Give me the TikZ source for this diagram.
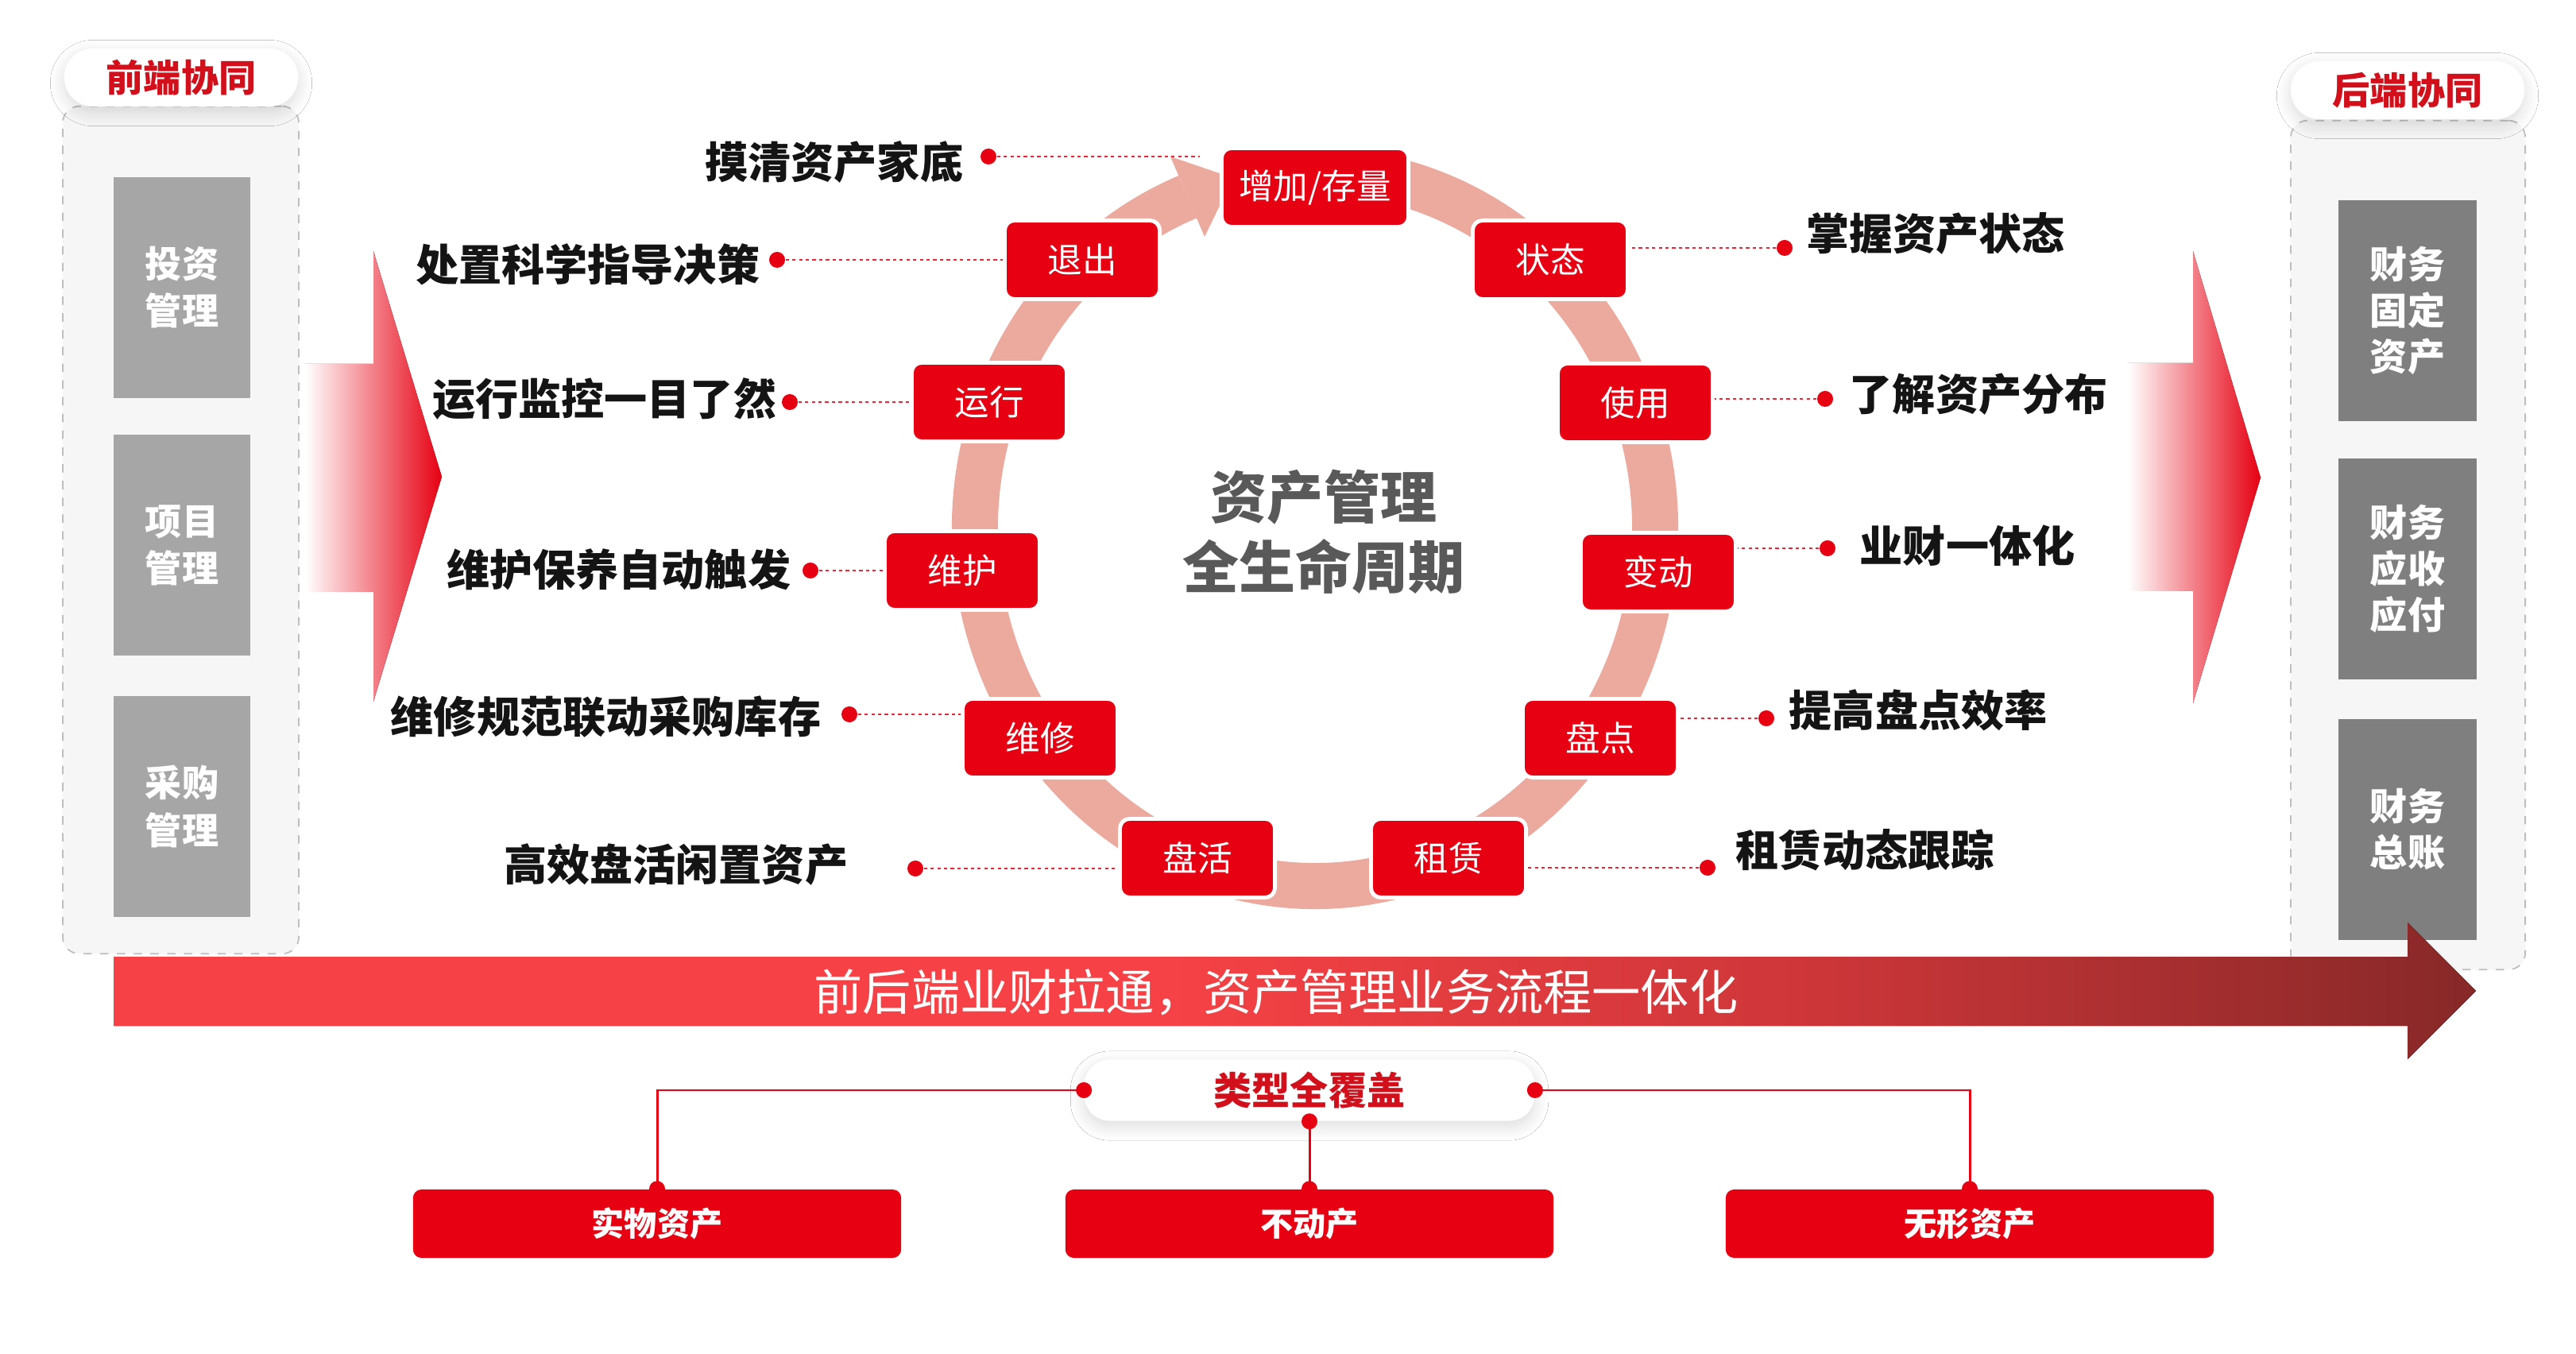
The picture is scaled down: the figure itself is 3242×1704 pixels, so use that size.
\documentclass[tikz,border=0pt]{standalone}
\usepackage{fontspec}
\setmainfont{Noto Sans CJK SC}
\usetikzlibrary{shadows.blur}
\definecolor{cred}{RGB}{230,0,18}
\definecolor{ringc}{RGB}{236,170,158}
\definecolor{pillred}{RGB}{210,16,28}
\definecolor{txtblack}{RGB}{20,20,20}
\definecolor{titlegray}{RGB}{89,89,89}
\definecolor{lgray}{RGB}{166,166,166}
\definecolor{dgray}{RGB}{127,127,127}
\definecolor{panelbg}{RGB}{246,246,246}
\definecolor{paneledge}{RGB}{190,190,190}
\definecolor{bannerL}{RGB}{246,66,70}
\definecolor{bannerM}{RGB}{205,54,57}
\definecolor{bannerR}{RGB}{135,40,40}
\pgfdeclarehorizontalshading{bannershade}{100bp}{color(0bp)=(bannerL); color(25bp)=(bannerL); color(47bp)=(bannerL); color(61bp)=(bannerM); color(75bp)=(bannerR); color(100bp)=(bannerR)}
\begin{document}
\begin{tikzpicture}[x=0.01cm,y=-0.01cm,
  panel/.style={draw=paneledge, fill=panelbg, dashed, line width=0.5pt, rounded corners=6pt, inner sep=0pt},
  pill/.style={fill=white, rounded corners=0.36cm, minimum width=2.94cm, minimum height=0.73cm, inner sep=0pt,
    text=pillred, font=\bfseries\fontsize{13.4}{16}\selectfont,
    blur shadow={shadow blur steps=10, shadow xshift=0pt, shadow yshift=-2pt, shadow blur radius=5pt, shadow opacity=14}},
  lbox/.style={fill=lgray, minimum width=1.71cm, minimum height=2.78cm, inner sep=0pt, align=center,
    text=white, font=\bfseries\fontsize{13.1}{16.8}\selectfont},
  rbox/.style={fill=dgray, minimum width=1.73cm, minimum height=2.77cm, inner sep=0pt, align=center,
    text=white, font=\bfseries\fontsize{13.4}{16.5}\selectfont},
  stage/.style={fill=cred, draw=white, line width=1.4pt, rounded corners=3.5pt, minimum width=1.95cm,
    minimum height=0.99cm, inner sep=0pt, text=white, font=\fontsize{12.4}{14}\selectfont},
  lbl/.style={inner sep=0pt, text=txtblack, font=\bfseries\fontsize{15.4}{18}\selectfont},
  ldot/.style={circle, fill=cred, minimum size=0.2cm, inner sep=0pt},
  conn/.style={draw=cred!85, line width=0.7pt, dash pattern=on 1.2pt off 1.2pt},
  bline/.style={draw=cred, line width=0.85pt},
  bbox/.style={fill=cred, rounded corners=3pt, minimum width=6.14cm, minimum height=0.86cm, inner sep=0pt,
    text=white, font=\bfseries\fontsize{11.7}{14}\selectfont}
]
\useasboundingbox[fill=white] (0,0) rectangle (3242,1704);

% side panels
\node[panel, minimum width=2.97cm, minimum height=10.66cm] (lpanel) at (227.5,667) {};
\node[panel, minimum width=2.95cm, minimum height=10.68cm] (rpanel) at (3030.5,686) {};
\node[pill] (lpill) at (228,97.5) {前端协同};
\node[pill] (rpill) at (3030,113.5) {后端协同};

\node[lbox] (lb1) at (229,362) {投资\\管理};
\node[lbox] (lb2) at (229,686) {项目\\管理};
\node[lbox] (lb3) at (229,1015) {采购\\管理};

\node[rbox] (rb1) at (3030,391) {财务\\固定\\资产};
\node[rbox] (rb2) at (3030,716) {财务\\应收\\应付};
\node[rbox] (rb3) at (3030,1044) {财务\\总账};

% big side arrows
\fill[left color=white, right color=cred] (384,458) -- (470,458) -- (470,316) -- (556,600) -- (470,883) -- (470,745) -- (384,745) -- cycle;
\fill[left color=white, right color=cred] (2678,457) -- (2760,457) -- (2760,316) -- (2845,601) -- (2760,885) -- (2760,744) -- (2678,744) -- cycle;

% ring
\draw[ringc, line width=0.58cm] (1655,665) ++(248:428 and 450) arc[start angle=248, end angle=-90, x radius=428, y radius=450];
\fill[ringc] (1473,197) -- (1552,224) -- (1516,298) -- cycle;

% centre title
\node[align=center, text=titlegray, font=\bfseries\fontsize{20.2}{25}\selectfont, inner sep=0pt] (title) at (1666,669) {资产管理\\全生命周期};

% stages
\node[stage, minimum width=2.35cm] (s0) at (1655,236) {增加/存量};
\node[stage] (s1) at (1951,327) {状态};
\node[stage] (s2) at (2058,507) {使用};
\node[stage] (s3) at (2087,720) {变动};
\node[stage] (s4) at (2014,929) {盘点};
\node[stage] (s5) at (1823,1080) {租赁};
\node[stage] (s6) at (1507,1080) {盘活};
\node[stage] (s7) at (1309,929) {维修};
\node[stage] (s8) at (1211,718) {维护};
\node[stage] (s9) at (1245,506) {运行};
\node[stage] (s10) at (1362,327) {退出};

% left labels
\node[lbl, anchor=east] (L1) at (1213,204) {摸清资产家底};
\node[lbl, anchor=east] (L2) at (957,333) {处置科学指导决策};
\node[lbl, anchor=east] (L3) at (978,502) {运行监控一目了然};
\node[lbl, anchor=east] (L4) at (996,717) {维护保养自动触发};
\node[lbl, anchor=east] (L5) at (1034,902) {维修规范联动采购库存};
\node[lbl, anchor=east] (L6) at (1068,1088) {高效盘活闲置资产};
\node[ldot] (d1) at (1244,197) {};
\node[ldot] (d2) at (978,327) {};
\node[ldot] (d3) at (994,506) {};
\node[ldot] (d4) at (1020,718) {};
\node[ldot] (d5) at (1069,899) {};
\node[ldot] (d6) at (1152,1093) {};
\coordinate (e1) at (1510,197);
\draw[conn] (d1) -- (e1);
\draw[conn] (d2) -- (d2 -| s10.west);
\draw[conn] (d3) -- (d3 -| s9.west);
\draw[conn] (d4) -- (d4 -| s8.west);
\draw[conn] (d5) -- (d5 -| s7.west);
\draw[conn] (d6) -- (d6 -| s6.west);

% right labels
\node[lbl, anchor=west] (R1) at (2273,294) {掌握资产状态};
\node[lbl, anchor=west] (R2) at (2327,496) {了解资产分布};
\node[lbl, anchor=west] (R3) at (2340,687) {业财一体化};
\node[lbl, anchor=west] (R4) at (2251,894) {提高盘点效率};
\node[lbl, anchor=west] (R5) at (2184,1070) {租赁动态跟踪};
\node[ldot] (d7) at (2246,312) {};
\node[ldot] (d8) at (2297,502) {};
\node[ldot] (d9) at (2300,690) {};
\node[ldot] (d10) at (2223,904) {};
\node[ldot] (d11) at (2149,1092) {};
\draw[conn] (d7) -- (d7 -| s1.east);
\draw[conn] (d8) -- (d8 -| s2.east);
\draw[conn] (d9) -- (d9 -| s3.east);
\draw[conn] (d10) -- (d10 -| s4.east);
\draw[conn] (d11) -- (d11 -| s5.east);

% banner arrow
\fill[shading=bannershade] (143,1204) -- (3030,1204) -- (3030,1161) -- (3116,1247) -- (3030,1333) -- (3030,1291) -- (143,1291) -- cycle;
\node[text=white, font=\fontsize{17.4}{20}\selectfont, inner sep=0pt] (banner) at (1606,1249) {前后端业财拉通，资产管理业务流程一体化};

% bottom tree
\node[pill, minimum width=5.66cm, minimum height=0.77cm, rounded corners=9pt, font=\bfseries\fontsize{13.7}{16}\selectfont] (tp) at (1648,1372) {类型全覆盖};
\node[bbox] (b1) at (827,1540) {实物资产};
\node[bbox] (b2) at (1648,1540) {不动产};
\node[bbox] (b3) at (2479,1540) {无形资产};
\draw[bline] (tp.west) -| (b1.north);
\draw[bline] (tp.east) -| (b3.north);
\draw[bline] (tp.south) -- (b2.north);
\foreach \p in {tp.west, tp.east, tp.south, b1.north, b2.north, b3.north}
  \fill[cred] (\p) circle[radius=0.1cm];
\end{tikzpicture}
\end{document}
